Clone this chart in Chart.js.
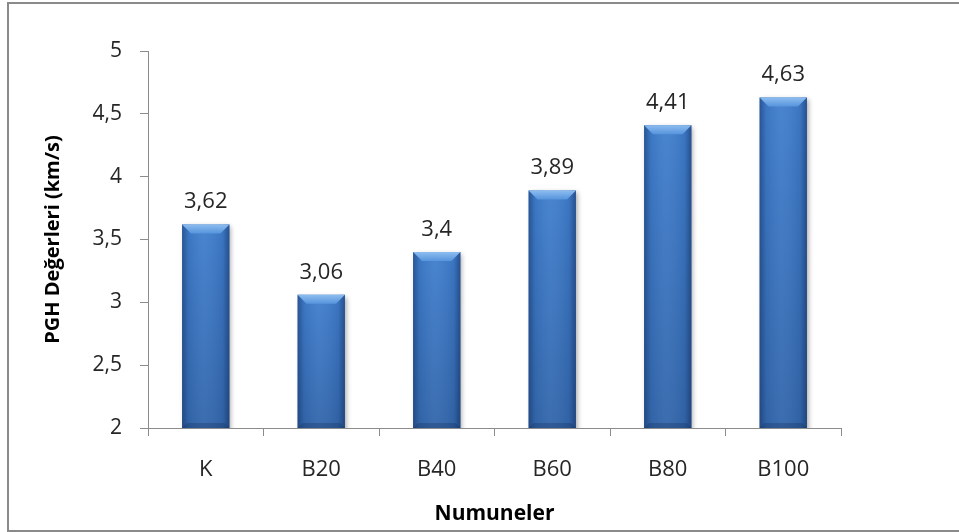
<!DOCTYPE html>
<html>
<head>
<meta charset="utf-8">
<script src="https://cdn.jsdelivr.net/npm/chart.js@4"></script>
<style>
    body { margin: 0; background: #fff; }
    #wrap { width: 959px; height: 532px; }
</style>
</head>
<body>
<div id="wrap"><canvas id="pghChart" width="959" height="532"></canvas></div>
<script>
const categories = ['K', 'B20', 'B40', 'B60', 'B80', 'B100'];
const pghValues = [3.62, 3.06, 3.4, 3.89, 4.41, 4.63];
const yMin = 2;
const yMax = 5;
const yStep = 0.5;

const FONT = "'Open Sans', 'DejaVu Sans', sans-serif";
const AXIS_GRAY = '#8c8c8c';

function commaNum(v) {
    return String(v).replace('.', ',');
}

// frame around the whole chart
const framePlugin = {
    id: 'frame',
    beforeDraw(chart) {
        const ctx = chart.ctx;
        ctx.save();
        ctx.fillStyle = '#fff';
        ctx.fillRect(0, 0, chart.width, chart.height);
        ctx.strokeStyle = '#8a8a8a';
        ctx.lineWidth = 2;
        ctx.strokeRect(8, 3, 970, 528);
        ctx.restore();
    }
};

// bevelled bars with soft shadow + value labels on top
const bevelPlugin = {
    id: 'bevel',
    beforeDatasetsDraw(chart) {
        const ctx = chart.ctx;
        ctx.save();
        ctx.shadowColor = 'rgba(0, 0, 0, 0.35)';
        ctx.shadowBlur = 5;
        ctx.shadowOffsetX = 2;
        ctx.shadowOffsetY = 2;
    },
    afterDatasetsDraw(chart) {
        const ctx = chart.ctx;
        ctx.restore();
        const bottom = chart.chartArea.bottom;
        const meta = chart.getDatasetMeta(0);
        meta.data.forEach((bar, i) => {
            const {x, y, base, width} = bar.getProps(['x', 'y', 'base', 'width'], true);
            // axis starts at 2, so the bar's own base lies below the plot
            const foot = Math.min(base, bottom);
            const left = x - width / 2;
            const right = x + width / 2;
            const h = foot - y;

            ctx.save();
            // side shading
            let g = ctx.createLinearGradient(left, 0, right, 0);
            g.addColorStop(0, 'rgba(15, 35, 80, 0.45)');
            g.addColorStop(0.14, 'rgba(15, 35, 80, 0.08)');
            g.addColorStop(0.45, 'rgba(255, 255, 255, 0.05)');
            g.addColorStop(0.86, 'rgba(15, 35, 80, 0.1)');
            g.addColorStop(1, 'rgba(15, 35, 80, 0.5)');
            ctx.fillStyle = g;
            ctx.fillRect(left, y, width, h);

            // darker towards the base
            g = ctx.createLinearGradient(0, y, 0, foot);
            g.addColorStop(0, 'rgba(10, 25, 60, 0)');
            g.addColorStop(1, 'rgba(10, 25, 60, 0.22)');
            ctx.fillStyle = g;
            ctx.fillRect(left, y, width, h);

            // top bevel
            const b = 9;
            ctx.beginPath();
            ctx.moveTo(left, y);
            ctx.lineTo(right, y);
            ctx.lineTo(right - b, y + b);
            ctx.lineTo(left + b, y + b);
            ctx.closePath();
            g = ctx.createLinearGradient(0, y, 0, y + b);
            g.addColorStop(0, '#8dbdf0');
            g.addColorStop(1, '#5694dc');
            ctx.fillStyle = g;
            ctx.fill();

            // bottom bevel
            const bb = 5;
            ctx.beginPath();
            ctx.moveTo(left, foot);
            ctx.lineTo(right, foot);
            ctx.lineTo(right - bb, foot - bb);
            ctx.lineTo(left + bb, foot - bb);
            ctx.closePath();
            ctx.fillStyle = 'rgba(20, 45, 90, 0.3)';
            ctx.fill();

            // value label
            ctx.fillStyle = '#262626';
            ctx.font = '22px ' + FONT;
            ctx.textAlign = 'center';
            ctx.textBaseline = 'alphabetic';
            ctx.fillText(commaNum(pghValues[i]), x, y - 16);
            ctx.restore();
        });
    }
};

new Chart(document.getElementById('pghChart'), {
    type: 'bar',
    data: {
        labels: categories,
        datasets: [{
            data: pghValues,
            backgroundColor: '#3f7ecd',
            borderWidth: 0,
            barPercentage: 0.41,
            categoryPercentage: 1
        }]
    },
    options: {
        responsive: false,
        animation: false,
        layout: {
            padding: {top: 51, right: 118, left: 0, bottom: 0}
        },
        plugins: {
            legend: {display: false},
            tooltip: {enabled: false}
        },
        scales: {
            x: {
                grid: {
                    offset: true,
                    drawOnChartArea: false,
                    drawTicks: true,
                    tickLength: 8,
                    color: AXIS_GRAY
                },
                border: {color: AXIS_GRAY, width: 1},
                ticks: {
                    color: '#262626',
                    padding: 21,
                    font: {family: FONT, size: 22}
                },
                title: {
                    display: true,
                    text: 'Numuneler',
                    color: '#000',
                    padding: {top: 0, bottom: 5},
                    font: {family: FONT, size: 21, weight: 'bold'}
                },
                afterFit(scale) {
                    scale.height = 104;
                }
            },
            y: {
                min: yMin,
                max: yMax,
                grid: {
                    drawOnChartArea: false,
                    drawTicks: true,
                    tickLength: 8,
                    color: AXIS_GRAY
                },
                border: {color: AXIS_GRAY, width: 1},
                ticks: {
                    stepSize: yStep,
                    color: '#262626',
                    padding: 18,
                    font: {family: FONT, size: 21},
                    callback: v => commaNum(v)
                },
                title: {
                    display: true,
                    text: 'PGH Değerleri (km/s)',
                    color: '#000',
                    padding: {top: 41, bottom: 0},
                    font: {family: FONT, size: 20, weight: 'bold'}
                },
                afterFit(scale) {
                    scale.width = 148;
                }
            }
        }
    },
    plugins: [framePlugin, bevelPlugin]
});
</script>
</body>
</html>
